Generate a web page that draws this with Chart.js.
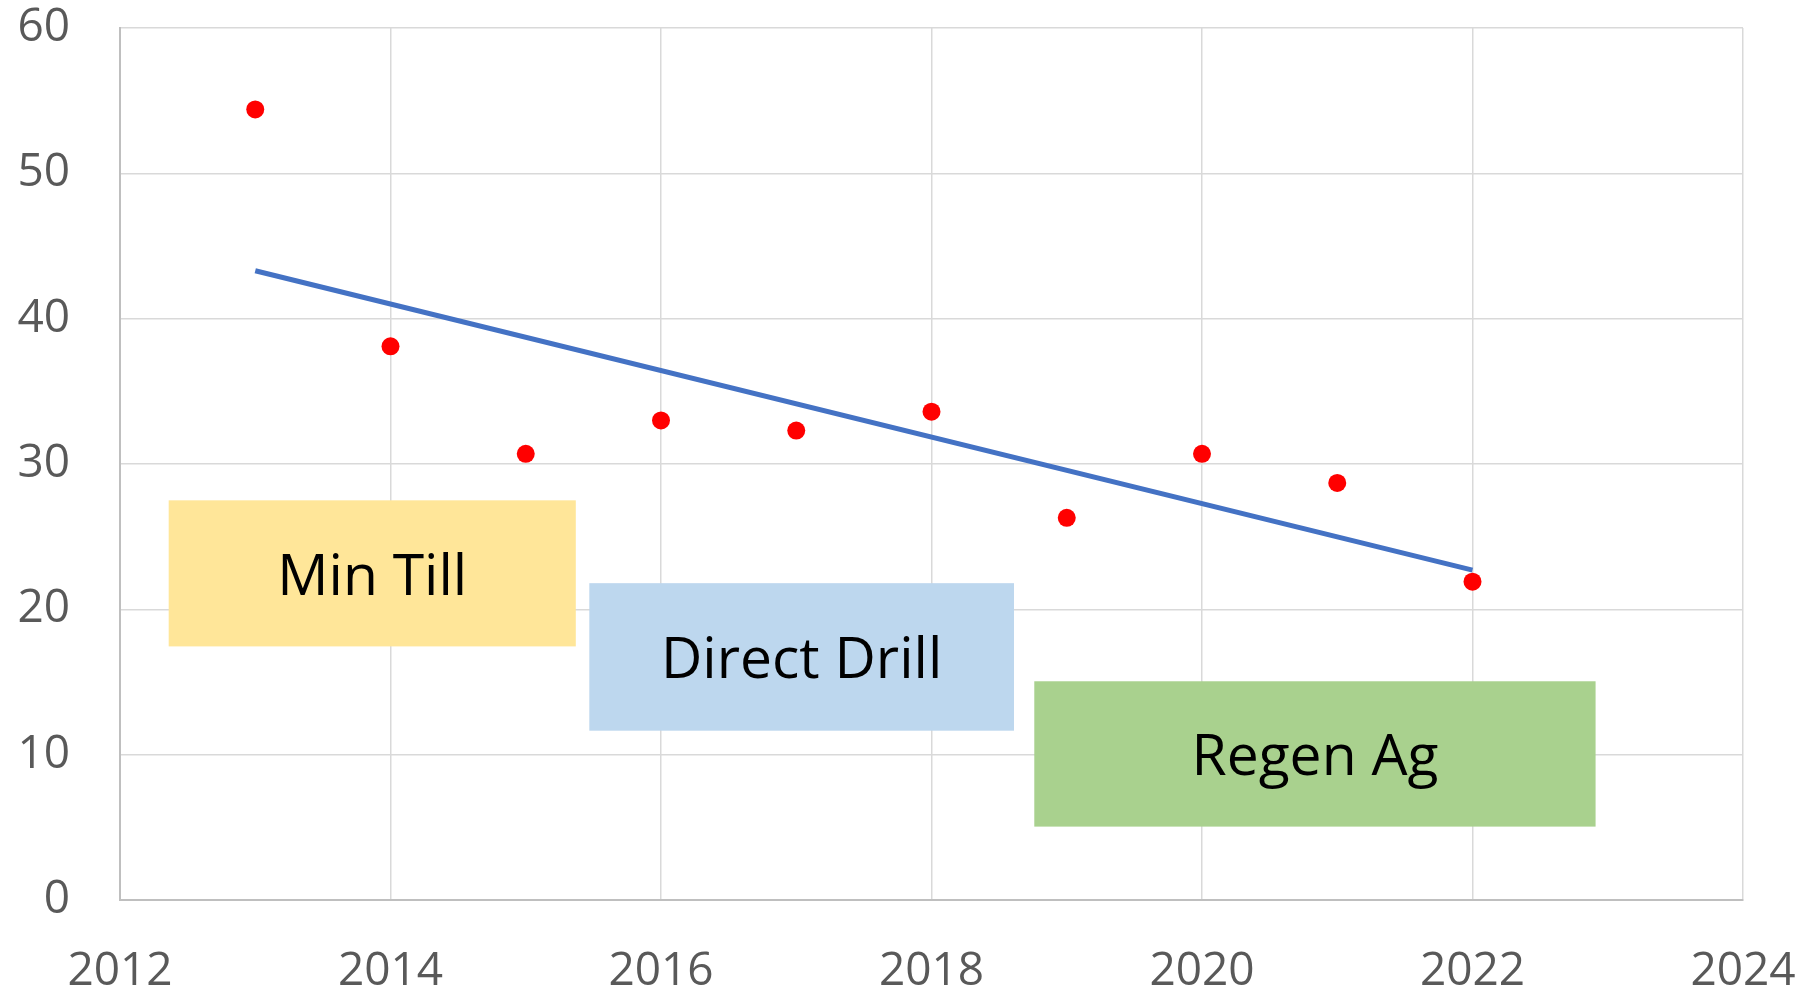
<!DOCTYPE html>
<html>
<head>
<meta charset="utf-8">
<script src="https://cdn.jsdelivr.net/npm/chart.js@4/dist/chart.umd.min.js"></script>
<style>
  html, body { margin: 0; padding: 0; background: #ffffff; }
  #wrap { width: 1806px; height: 993px; position: relative; }
</style>
</head>
<body>
<div id="wrap"><canvas id="c" width="1806" height="993"></canvas></div>
<script>
// Data
const years = [2013, 2014, 2015, 2016, 2017, 2018, 2019, 2020, 2021, 2022];
const values = [54.4, 38.1, 30.7, 33.0, 32.3, 33.6, 26.3, 30.7, 28.7, 21.9];
const trendYears = [2013, 2022];
const trendValues = [43.3, 22.7];
const xTicks = [2012, 2014, 2016, 2018, 2020, 2022, 2024];
const yTicks = [0, 10, 20, 30, 40, 50, 60];
const boxLabels = ['Min Till', 'Direct Drill', 'Regen Ag'];

// Annotation boxes (placement in axis units)
const boxes = [
  { label: boxLabels[0], x0: 2012.36, x1: 2015.37, y0: 27.5, y1: 17.45, color: '#FFE699' },
  { label: boxLabels[1], x0: 2015.47, x1: 2018.61, y0: 21.8, y1: 11.65, color: '#BDD7EE' },
  { label: boxLabels[2], x0: 2018.76, x1: 2022.91, y0: 15.05, y1: 5.05, color: '#A9D18E' }
];

const boxPlugin = {
  id: 'boxes',
  beforeDatasetsDraw(chart) {
    const ctx = chart.ctx;
    const xs = chart.scales.x, ys = chart.scales.y;
    ctx.save();
    boxes.forEach(b => {
      const l = xs.getPixelForValue(b.x0), r = xs.getPixelForValue(b.x1);
      const t = ys.getPixelForValue(b.y0), btm = ys.getPixelForValue(b.y1);
      ctx.fillStyle = b.color;
      ctx.fillRect(l, t, r - l, btm - t);
      ctx.fillStyle = '#000000';
      ctx.font = '57px "Open Sans"';
      ctx.textAlign = 'center';
      ctx.textBaseline = 'middle';
      ctx.fillText(b.label, (l + r) / 2, (t + btm) / 2 + 5);
    });
    ctx.restore();
  }
};

const tickFont = { family: '"Open Sans"', size: 46 };

function zeroPad(scale) {
  scale.paddingTop = 0;
  scale.paddingBottom = 0;
  scale.paddingLeft = 0;
  scale.paddingRight = 0;
}

new Chart(document.getElementById('c'), {
  type: 'scatter',
  data: {
    datasets: [
      {
        label: 'Trend',
        type: 'line',
        data: trendYears.map((x, i) => ({ x: x, y: trendValues[i] })),
        borderColor: '#4472C4',
        borderWidth: 5,
        pointRadius: 0,
        fill: false,
        order: 2
      },
      {
        label: 'Values',
        data: years.map((x, i) => ({ x: x, y: values[i] })),
        backgroundColor: '#FF0000',
        borderColor: '#FF0000',
        pointRadius: 9,
        pointBorderWidth: 0,
        order: 1
      }
    ]
  },
  options: {
    responsive: false,
    animation: false,
    devicePixelRatio: 1,
    layout: { padding: { top: 28, right: 63, left: 0, bottom: 0 } },
    plugins: {
      legend: { display: false },
      tooltip: { enabled: false }
    },
    scales: {
      x: {
        type: 'linear',
        min: 2012,
        max: 2024,
        afterBuildTicks(scale) { scale.ticks = xTicks.map(v => ({ value: v })); },
        afterFit(scale) { scale.height = 93; zeroPad(scale); },
        ticks: {
          color: '#595959',
          font: tickFont,
          padding: 44,
          maxRotation: 0,
          callback: v => String(v)
        },
        grid: { color: '#d9d9d9', lineWidth: 1.5, drawTicks: false },
        border: { color: '#bfbfbf', width: 2 }
      },
      y: {
        min: 0,
        max: 60,
        afterBuildTicks(scale) { scale.ticks = yTicks.map(v => ({ value: v })); },
        afterFit(scale) { scale.width = 120; zeroPad(scale); },
        ticks: {
          color: '#595959',
          font: tickFont,
          padding: 50,
          callback: v => String(v)
        },
        grid: { color: '#d9d9d9', lineWidth: 1.5, drawTicks: false },
        border: { color: '#bfbfbf', width: 2 }
      }
    }
  },
  plugins: [boxPlugin]
});
</script>
</body>
</html>
